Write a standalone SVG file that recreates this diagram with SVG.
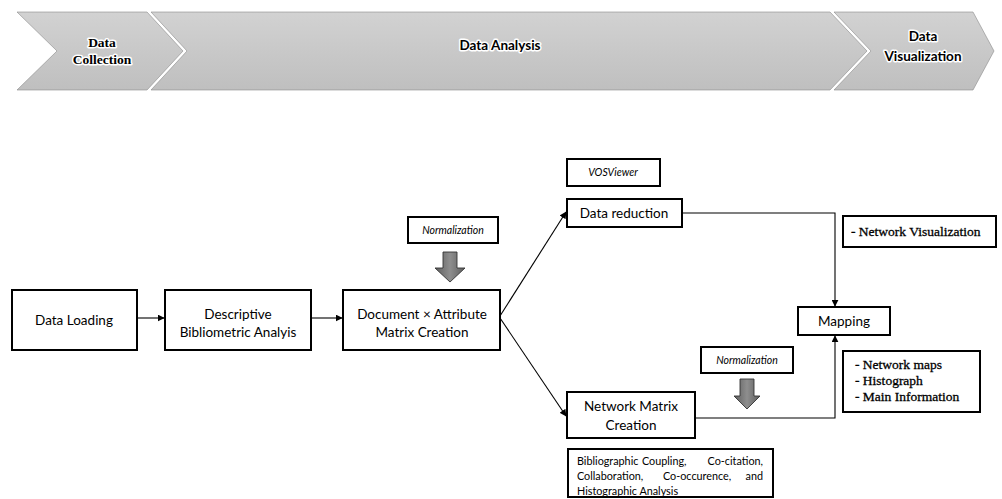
<svg xmlns="http://www.w3.org/2000/svg" width="1002" height="499" viewBox="0 0 1002 499">
  <defs>
    <style>
      .box { fill: #ffffff; stroke: #000000; stroke-width: 2; }
      .sans { font-family: Lato, "Open Sans", "Liberation Sans", sans-serif; fill: #000000; }
      .serif { font-family: "Liberation Serif", "DejaVu Serif", serif; fill: #000000; }
      .lbl { font-size: 13.5px; text-anchor: middle; }
      .ital { font-size: 10.5px; font-style: italic; text-anchor: middle; }
      .small { font-size: 10.8px; }
      .note { font-size: 13.5px; stroke: #000000; stroke-width: 0.3; }
      .phase { font-size: 13.5px; font-weight: bold; text-anchor: middle; stroke: #ffffff; stroke-width: 3; stroke-linejoin: round; paint-order: stroke; }
      .seg { fill: url(#segFill); stroke: #8a8a8a; stroke-width: 0.6; }
      .link { fill: none; stroke: #000000; stroke-width: 1.1; }
      .fat { fill: url(#fatFill); stroke: #333333; stroke-width: 0.9; }
    </style>
    <linearGradient id="segFill" x1="0" y1="0" x2="0" y2="1">
      <stop offset="0" stop-color="#d2d2d2"/>
      <stop offset="1" stop-color="#bfbfbf"/>
    </linearGradient>
    <linearGradient id="fatFill" x1="0" y1="0" x2="1" y2="0">
      <stop offset="0" stop-color="#5e5e5e"/>
      <stop offset="0.5" stop-color="#8e8e8e"/>
      <stop offset="1" stop-color="#5e5e5e"/>
    </linearGradient>
    <marker id="tip" viewBox="0 0 10 10" refX="9" refY="5" markerWidth="7" markerHeight="7" markerUnits="userSpaceOnUse" orient="auto">
      <path d="M0,0 L10,5 L0,10 Z" fill="#000000"/>
    </marker>
  </defs>

  <!-- phase bar -->
  <g id="phase-collection">
    <path class="seg" d="M17,12 L147,12 L183,51 L147,90 L17,90 L57,51 Z"/>
    <text class="serif phase" x="102" y="47">Data</text>
    <text class="serif phase" x="102" y="64">Collection</text>
  </g>
  <g id="phase-analysis">
    <path class="seg" d="M151,12 L830,12 L867,51 L830,90 L151,90 L187,51 Z"/>
    <text class="sans phase" x="500" y="50">Data Analysis</text>
  </g>
  <g id="phase-visualization">
    <path class="seg" d="M834,12 L973,12 L994,51 L973,90 L834,90 L871,51 Z"/>
    <text class="sans phase" x="923" y="41">Data</text>
    <text class="sans phase" x="923" y="61">Visualization</text>
  </g>

  <!-- connectors -->
  <g id="connectors">
    <line class="link" x1="137" y1="318" x2="164" y2="318" marker-end="url(#tip)"/>
    <line class="link" x1="311" y1="318" x2="342" y2="318" marker-end="url(#tip)"/>
    <line class="link" x1="500" y1="316" x2="566" y2="212" marker-end="url(#tip)"/>
    <line class="link" x1="500" y1="318" x2="566" y2="416" marker-end="url(#tip)"/>
    <polyline class="link" points="682,213 835,213 835,306" marker-end="url(#tip)"/>
    <polyline class="link" points="695,418 835,418 835,336" marker-end="url(#tip)"/>
  </g>

  <g id="data-loading">
    <rect class="box" x="12" y="290" width="125" height="60"/>
    <text class="sans lbl" x="74" y="325">Data Loading</text>
  </g>

  <g id="descriptive">
    <rect class="box" x="165" y="290" width="146" height="60"/>
    <text class="sans lbl" x="238" y="319">Descriptive</text>
    <text class="sans lbl" x="238" y="337">Bibliometric Analyis</text>
  </g>

  <g id="doc-attr-matrix">
    <rect class="box" x="343" y="290" width="157" height="60"/>
    <text class="sans lbl" x="422" y="319">Document × Attribute</text>
    <text class="sans lbl" x="422" y="337">Matrix Creation</text>
  </g>

  <g id="normalization-1">
    <rect class="box" x="408" y="217" width="90" height="26"/>
    <text class="sans ital" x="453" y="234">Normalization</text>
    <path class="fat" d="M443,252 L457,252 L457,268 L465,268 L450,282 L435,268 L443,268 Z"/>
  </g>

  <g id="vosviewer">
    <rect class="box" x="567" y="159" width="93" height="27"/>
    <text class="sans ital" x="613" y="176">VOSViewer</text>
  </g>

  <g id="data-reduction">
    <rect class="box" x="567" y="199" width="115" height="28"/>
    <text class="sans lbl" x="624" y="218">Data reduction</text>
  </g>

  <g id="network-visualization-note">
    <rect class="box" x="843" y="216" width="153" height="31"/>
    <text class="serif note" x="851" y="236">- Network Visualization</text>
  </g>

  <g id="mapping">
    <rect class="box" x="798" y="307" width="92" height="28"/>
    <text class="sans lbl" x="844" y="326">Mapping</text>
  </g>

  <g id="normalization-2">
    <rect class="box" x="701" y="347" width="92" height="26"/>
    <text class="sans ital" x="747" y="364">Normalization</text>
    <path class="fat" d="M740,379 L754,379 L754,396 L760,396 L747,409 L734,396 L740,396 Z"/>
  </g>

  <g id="network-matrix">
    <rect class="box" x="567" y="392" width="128" height="46"/>
    <text class="sans lbl" x="631" y="411">Network Matrix</text>
    <text class="sans lbl" x="631" y="430">Creation</text>
  </g>

  <g id="mapping-outputs-note">
    <rect class="box" x="843" y="351" width="137" height="61"/>
    <text class="serif note" x="855" y="369">- Network maps</text>
    <text class="serif note" x="855" y="385">- Histograph</text>
    <text class="serif note" x="855" y="401">- Main Information</text>
  </g>

  <g id="analysis-types-note">
    <rect class="box" x="568" y="449" width="205" height="48"/>
    <text class="sans small" x="577" y="465">Bibliographic</text>
    <text class="sans small" x="642" y="465">Coupling,</text>
    <text class="sans small" x="763" y="465" text-anchor="end">Co-citation,</text>
    <text class="sans small" x="577" y="480">Collaboration,</text>
    <text class="sans small" x="663" y="480">Co-occurence,</text>
    <text class="sans small" x="763" y="480" text-anchor="end">and</text>
    <text class="sans small" x="577" y="495">Histographic Analysis</text>
  </g>
</svg>
